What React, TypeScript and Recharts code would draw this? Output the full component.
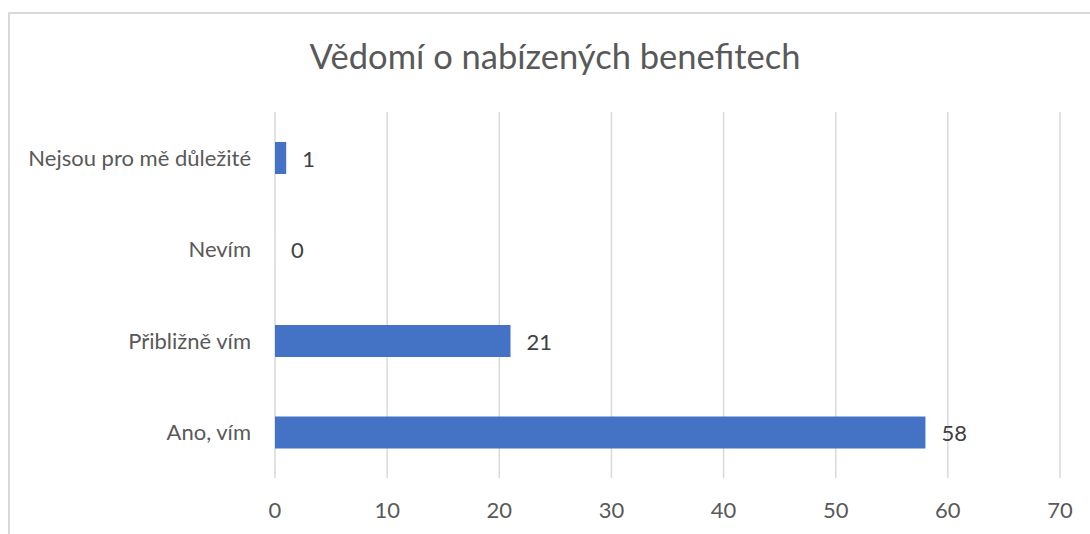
import React from "react";
import { BarChart, Bar, XAxis, YAxis, CartesianGrid, LabelList } from "recharts";

const categories = ["Nejsou pro mě důležité", "Nevím", "Přibližně vím", "Ano, vím"];
const values = [1, 0, 21, 58];
const xTicks = [0, 10, 20, 30, 40, 50, 60, 70];
const title = "Vědomí o nabízených benefitech";

const data = categories.map((c, i) => ({ name: c, value: values[i] }));

const FONT = "Lato, 'Open Sans', sans-serif";
const TEXT = "#595959";

const renderValueLabel = (props: any) => {
  const { x, y, width, height, value } = props;
  const px = Number(x) + Math.max(0, Number(width || 0)) + 16;
  const py = Number(y) + Number(height) / 2;
  return (
    <text
      x={px}
      y={py}
      dominantBaseline="central"
      textAnchor="start"
      fill="#404040"
      fontSize={22}
      fontFamily={FONT}
    >
      {value}
    </text>
  );
};

export default function App() {
  return (
    <div style={{ position: "fixed", left: 0, top: 0, width: 1090, height: 534, overflow: "hidden", background: "#fff" }}>
      <div
        style={{
          position: "absolute",
          left: 8,
          top: 12,
          width: 1120,
          height: 600,
          border: "2px solid #d9d9d9",
          boxSizing: "border-box",
        }}
      />
      <div
        style={{
          position: "absolute",
          left: 555,
          top: 34,
          transform: "translateX(-50%)",
          whiteSpace: "nowrap",
          fontFamily: FONT,
          fontSize: 34.5,
          color: TEXT,
          lineHeight: "44px",
        }}
      >
        {title}
      </div>
      <div style={{ position: "absolute", left: 0, top: 0 }}>
        <BarChart
          width={1090}
          height={534}
          data={data}
          layout="vertical"
          margin={{ top: 112, right: 30, left: 0, bottom: 26 }}
          barCategoryGap={0}
        >
          <CartesianGrid horizontal={false} stroke="#d9d9d9" strokeWidth={1.5} />
          <XAxis
            type="number"
            domain={[0, 70]}
            ticks={xTicks}
            axisLine={false}
            tickLine={false}
            height={30}
            tickMargin={18}
            tick={{ fill: TEXT, fontSize: 22, fontFamily: FONT }}
            interval={0}
          />
          <YAxis
            type="category"
            dataKey="name"
            width={275}
            axisLine={false}
            tickLine={false}
            tickMargin={18}
            tick={{ fill: TEXT, fontSize: 22, fontFamily: FONT }}
            interval={0}
          />
          <Bar dataKey="value" fill="#4472C4" barSize={32} minPointSize={0.01} isAnimationActive={false}>
            <LabelList dataKey="value" content={renderValueLabel} />
          </Bar>
        </BarChart>
      </div>
    </div>
  );
}
